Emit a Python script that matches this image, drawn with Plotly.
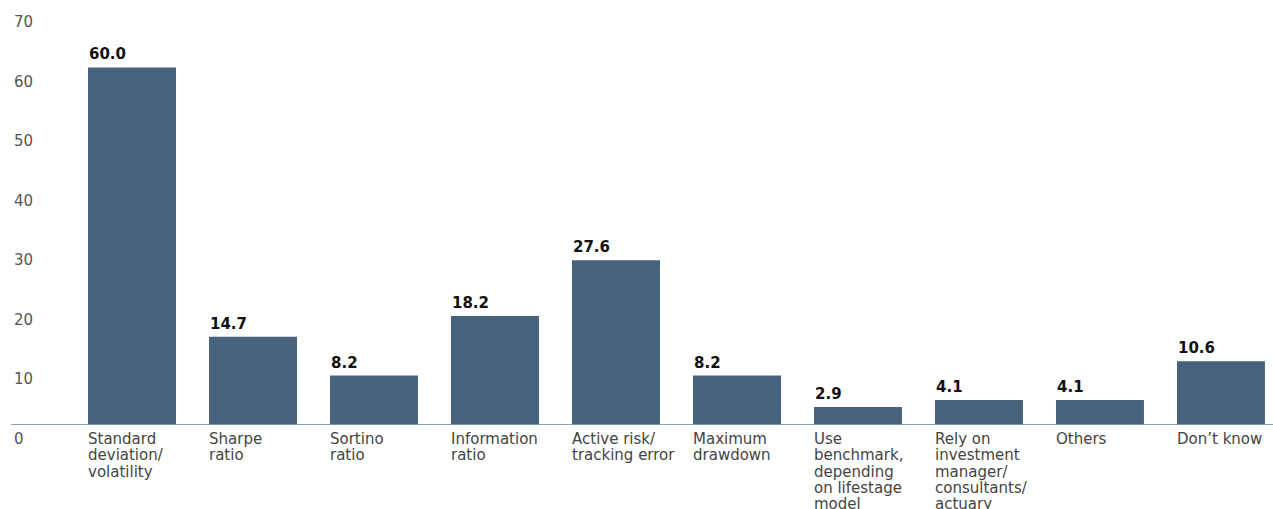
import plotly.graph_objects as go

# Survey responses: risk measures used (% of respondents)
categories = [
    "Standard deviation/volatility",
    "Sharpe ratio",
    "Sortino ratio",
    "Information ratio",
    "Active risk/tracking error",
    "Maximum drawdown",
    "Use benchmark, depending on lifestage model",
    "Rely on investment manager/consultants/actuary",
    "Others",
    "Don’t know",
]
category_lines = [
    ["Standard", "deviation/", "volatility"],
    ["Sharpe", "ratio"],
    ["Sortino", "ratio"],
    ["Information", "ratio"],
    ["Active risk/", "tracking error"],
    ["Maximum", "drawdown"],
    ["Use", "benchmark,", "depending", "on lifestage", "model"],
    ["Rely on", "investment", "manager/", "consultants/", "actuary"],
    ["Others"],
    ["Don’t know"],
]
values = [60.0, 14.7, 8.2, 18.2, 27.6, 8.2, 2.9, 4.1, 4.1, 10.6]
y_ticks = [0, 10, 20, 30, 40, 50, 60, 70]

BAR_COLOR = "#46627c"
BAR_WIDTH = 0.727
FONT = "DejaVu Sans"

fig = go.Figure(
    go.Bar(
        x=categories,
        y=values,
        width=BAR_WIDTH,
        marker=dict(color=BAR_COLOR, line=dict(width=0)),
        hoverinfo="skip",
    )
)

annotations = []
half = BAR_WIDTH / 2
for i, (lines, v) in enumerate(zip(category_lines, values)):
    # value label, left-aligned with the bar's left edge
    annotations.append(dict(
        x=i - half, y=v, xref="x", yref="y",
        text=f"<b>{v:.1f}</b>", showarrow=False,
        xanchor="left", yanchor="bottom", yshift=2, xshift=-1,
        font=dict(family=FONT, size=15, color="#111111"),
    ))
    # category label lines, stacked under the baseline
    for j, line in enumerate(lines):
        annotations.append(dict(
            x=i - half, y=0, xref="x", yref="y",
            text=line, showarrow=False,
            xanchor="left", yanchor="top", yshift=-4 - j * 16.2, xshift=-2,
            font=dict(family=FONT, size=15, color="#444444"),
        ))

fig.update_layout(
    width=1273, height=509,
    margin=dict(l=11, r=0, t=8, b=55),
    paper_bgcolor="white", plot_bgcolor="white",
    showlegend=False,
    font=dict(family=FONT),
    annotations=annotations,
    xaxis=dict(
        type="category",
        range=[-1.0, 9.43],
        showticklabels=False, showgrid=False, showline=False,
        zeroline=False, ticks="", fixedrange=True,
    ),
    yaxis=dict(
        range=[-5, 70],
        tickvals=y_ticks,
        ticktext=[str(t) for t in y_ticks],
        ticklabelposition="inside",
        ticklabelshift=14,
        ticklabelstandoff=0,
        tickfont=dict(family=FONT, size=15, color="#555555"),
        showgrid=False, showline=False, ticks="",
        zeroline=True, zerolinecolor="#8fa0b2", zerolinewidth=1,
        fixedrange=True,
    ),
)

fig.write_html("out.html")
